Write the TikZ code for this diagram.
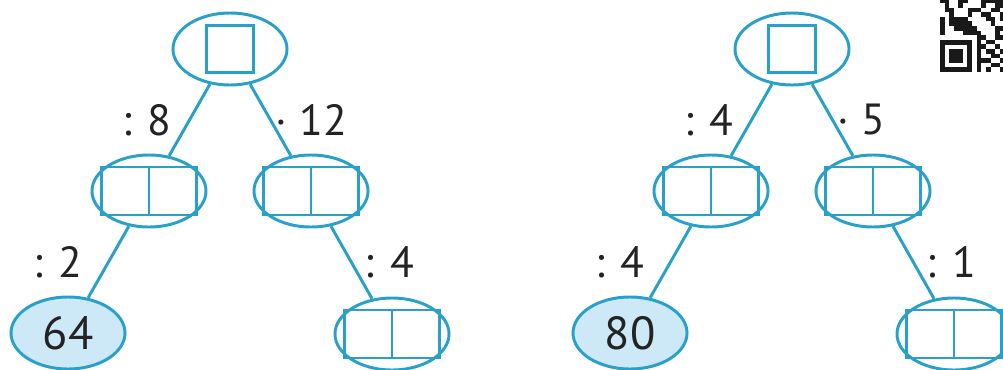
\documentclass[tikz,border=0pt]{standalone}
\usepackage{fontspec}
\setmainfont{PT Sans}
\usetikzlibrary{shapes}
\usetikzlibrary{positioning}
\definecolor{lineblue}{RGB}{40,160,200}
\definecolor{fillblue}{RGB}{205,232,246}
\definecolor{ink}{RGB}{35,35,35}
\definecolor{qr}{RGB}{25,25,25}

\begin{document}
\begin{tikzpicture}[x=0.025cm, y=-0.025cm]
    \tikzstyle{oval}=[draw=lineblue, ellipse, line width=2.1pt, minimum width=2.85cm, minimum height=1.8cm, inner sep=0pt];
    \tikzstyle{gap}=[draw=lineblue, line width=2.1pt, minimum size=1.18cm];
    \tikzstyle{pair}=[draw=lineblue, line width=2.1pt, minimum width=2.38cm, minimum height=1.2cm];
    \tikzstyle{lbl}=[text=ink, font=\fontsize{31}{36}\selectfont, inner sep=0pt];
    \tikzstyle{edge}=[draw=lineblue, line width=2.1pt];
    \useasboundingbox (0,0) rectangle (1003,369);
    \foreach \t/\dx/\la/\lb/\lc/\ld/\v in {a/0/8/12/2/4/64, b/562/4/5/4/1/80} {
      \begin{scope}[xshift=\dx*0.025cm]
        \node[oval] (top\t) at (230,49) {};
        \node[gap] at (top\t) {};
        \node[oval] (l\t) at (149,191) {};
        \node[pair] (lb\t) at (l\t) {};
        \draw[edge] (lb\t.north) -- (lb\t.south);
        \node[oval] (r\t) at (311,191) {};
        \node[pair] (rb\t) at (r\t) {};
        \draw[edge] (rb\t.north) -- (rb\t.south);
        \node[oval, fill=fillblue, lbl, font=\fontsize{33}{38}\selectfont] (v\t) at (68,333) {\v};
        \node[oval] (w\t) at (392,334) {};
        \node[pair] (wb\t) at (w\t) {};
        \draw[edge] (wb\t.north) -- (wb\t.south);
        \draw[edge] (top\t) -- node[lbl, anchor=east, xshift=-0.42cm] {: \la} (l\t);
        \draw[edge] (top\t) -- node[lbl, anchor=west, xshift=0.1cm] {· \lb} (r\t);
        \draw[edge] (l\t) -- node[lbl, anchor=east, xshift=-0.62cm] {: \lc} (v\t);
        \draw[edge] (r\t) -- node[lbl, anchor=west, xshift=0.3cm] {: \ld} (w\t);
      \end{scope}
    }
    % qr code, cut by the edge
    \fill[qr] (940,40) rectangle (972,72);
    \fill[white] (944.6,44.6) rectangle (967.4,67.4);
    \fill[qr] (949.2,49.2) rectangle (962.8,62.8);
    \foreach \c/\r in {0/0,1/0,4/0,5/0,9/0,10/0,11/0,12/0,13/0,
      1/1,4/1,9/1,12/1,13/1, 1/2,2/2,6/2,7/2,8/2,11/2,12/2,
      2/3,6/3,9/3,10/3,13/3, 0/4,2/4,3/4,4/4,5/4,10/4,11/4,13/4,
      0/5,2/5,3/5,4/5,5/5,6/5,11/5, 0/6,3/6,4/6,5/6,6/6,7/6,12/6,13/6,
      0/7,5/7,6/7,7/7,8/7,12/7, 8/8,9/8,12/8,13/8, 8/9,10/9,11/9,
      8/10,9/10,12/10, 8/11,10/11,11/11,13/11, 8/12,11/12,12/12,
      8/13,9/13,10/13,13/13, 8/14,11/14,12/14, 8/15,10/15,13/15} {
      \fill[qr] (940+\c*4.6,-1.6+\r*4.6) rectangle ++(4.6,4.6);
    }
\end{tikzpicture}
\end{document}
